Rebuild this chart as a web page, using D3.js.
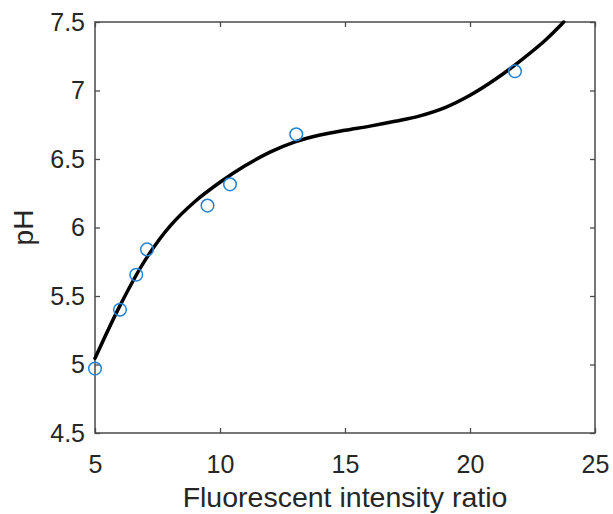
<!DOCTYPE html>
<html>
<head>
	<meta charset='utf-8'>
	<script src="https://cdnjs.cloudflare.com/ajax/libs/d3/7.8.5/d3.min.js" charset="utf-8"></script>
	<style>
	body {
		margin:0;
		background:#fff;
		font-family:"Liberation Sans", Arial, sans-serif;
	}
	</style>
</head>
<body>
	<script>

	// measured points
	var ratio = [5.0, 6.0, 6.65, 7.08, 9.5, 10.4, 13.05, 21.8];
	var ph = [4.97, 5.40, 5.655, 5.84, 6.16, 6.315, 6.68, 7.14];

	// fitted curve
	var fitX = [5, 6, 7, 8, 9, 10, 11, 12, 13, 14, 15, 16, 17, 18, 19, 20, 21, 22, 23, 23.75];
	var fitY = [5.045, 5.43, 5.76, 6.01, 6.19, 6.33, 6.45, 6.55, 6.625, 6.675, 6.71, 6.74, 6.775, 6.815, 6.875, 6.965, 7.08, 7.215, 7.365, 7.5];

	var xTicks = [5, 10, 15, 20, 25];
	var yTicks = [4.5, 5, 5.5, 6, 6.5, 7, 7.5];

	var canvasWidth = 613,
		canvasHeight = 514;

	var margin = {'top':22, 'right':18, 'bottom':81, 'left':95};
	var chartWidth = canvasWidth - margin.left - margin.right,
		chartHeight = canvasHeight - margin.top - margin.bottom;

	var axisColor = '#4a4a4a',
		textColor = '#262626',
		dotColor = '#2583d2';

	var canvas = d3.select('body').append('svg').attr('width', canvasWidth).attr('height', canvasHeight);
	var chart = canvas.append('g').attr('transform', 'translate(' + margin.left + ',' + margin.top + ')');

	var x = d3.scaleLinear().domain([5, 25]).range([0, chartWidth]);
	var y = d3.scaleLinear().domain([4.5, 7.5]).range([chartHeight, 0]);

	function styleAxis(g, showText) {
		g.select('.domain').remove();
		g.selectAll('line').attr('stroke', axisColor).attr('stroke-width', 1.3);
		g.selectAll('text').attr('fill', textColor).style('font-size', '25px')
			.style('font-family', '"Liberation Sans", Arial, sans-serif');
		if (!showText) g.selectAll('text').remove();
	}

	// inward ticks on all four sides
	chart.append('g').attr('transform', 'translate(0,' + chartHeight + ')')
		.call(d3.axisBottom(x).tickValues(xTicks).tickSize(-5).tickPadding(22).tickFormat(d3.format('d')))
		.call(function (g) { styleAxis(g, true); });
	chart.append('g')
		.call(d3.axisTop(x).tickValues(xTicks).tickSize(-5))
		.call(function (g) { styleAxis(g, false); });
	chart.append('g')
		.call(d3.axisLeft(y).tickValues(yTicks).tickSize(-5).tickPadding(10).tickFormat(function (d) { return String(d); }))
		.call(function (g) { styleAxis(g, true); });
	chart.append('g').attr('transform', 'translate(' + chartWidth + ',0)')
		.call(d3.axisRight(y).tickValues(yTicks).tickSize(-5))
		.call(function (g) { styleAxis(g, false); });

	chart.append('rect').attr('width', chartWidth).attr('height', chartHeight)
		.attr('fill', 'none').attr('stroke', axisColor).attr('stroke-width', 1.5);

	var fit = fitX.map(function (d, i) { return [d, fitY[i]]; });
	var line = d3.line().x(function (d) { return x(d[0]); }).y(function (d) { return y(d[1]); }).curve(d3.curveCatmullRom);
	chart.append('path').datum(fit).attr('d', line)
		.attr('fill', 'none').attr('stroke', '#000').attr('stroke-width', 3.5).attr('stroke-linecap', 'round');

	var pts = ratio.map(function (d, i) { return [d, ph[i]]; });
	chart.selectAll('circle').data(pts).enter().append('circle')
		.attr('cx', function (d) { return x(d[0]); })
		.attr('cy', function (d) { return y(d[1]); })
		.attr('r', 6.3)
		.attr('fill', 'none')
		.attr('stroke', dotColor)
		.attr('stroke-width', 1.5);

	canvas.append('text')
		.attr('x', margin.left + chartWidth / 2).attr('y', 507)
		.attr('text-anchor', 'middle').attr('fill', textColor)
		.style('font-size', '28.5px')
		.text('Fluorescent intensity ratio');

	canvas.append('text')
		.attr('transform', 'translate(33,' + (margin.top + chartHeight / 2) + ') rotate(-90)')
		.attr('text-anchor', 'middle').attr('fill', textColor)
		.style('font-size', '28px')
		.text('pH');

	</script>
</body>
</html>
